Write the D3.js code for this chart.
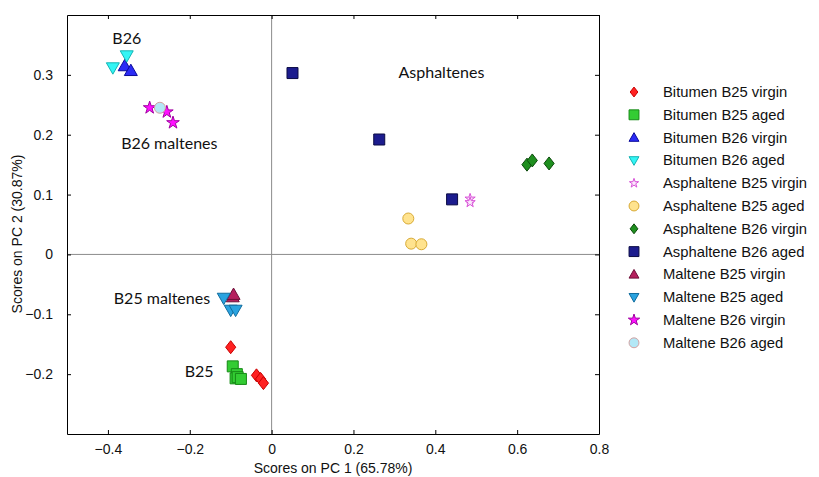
<!DOCTYPE html>
<html>
<head>
<meta charset="utf-8">
<script src="https://cdn.jsdelivr.net/npm/d3@7"></script>
<style>
	body { margin: 0; background: #fff; }
	svg text { font-family: "Liberation Sans", Arial, sans-serif; }
	.note { font-family: Lato, "Open Sans", sans-serif; font-size: 16px; fill: #111; }
</style>
</head>
<body>
<div id="chart"></div>
<script>
// series names, in legend order
const seriesNames = [
	'Bitumen B25 virgin', 'Bitumen B25 aged', 'Bitumen B26 virgin', 'Bitumen B26 aged',
	'Asphaltene B25 virgin', 'Asphaltene B25 aged', 'Asphaltene B26 virgin', 'Asphaltene B26 aged',
	'Maltene B25 virgin', 'Maltene B25 aged', 'Maltene B26 virgin', 'Maltene B26 aged'
];

// scores [PC1, PC2]
const bitB25virgin = [[-0.100, -0.155], [-0.037, -0.202], [-0.027, -0.208], [-0.020, -0.215]];
const bitB25aged = [[-0.095, -0.187], [-0.085, -0.200], [-0.088, -0.207], [-0.083, -0.205], [-0.075, -0.208]];
const bitB26virgin = [[-0.359, 0.315], [-0.344, 0.307]];
const bitB26aged = [[-0.354, 0.332], [-0.388, 0.312]];
const asphB25virgin = [[0.485, 0.093], [0.485, 0.087]];
const asphB25aged = [[0.334, 0.060], [0.341, 0.018], [0.366, 0.017]];
const asphB26virgin = [[0.624, 0.150], [0.637, 0.157], [0.678, 0.152]];
const asphB26aged = [[0.051, 0.303], [0.263, 0.192], [0.441, 0.092]];
const maltB25virgin = [[-0.095, -0.071], [-0.093, -0.067]];
const maltB25aged = [[-0.117, -0.073], [-0.100, -0.093], [-0.088, -0.093]];
const maltB26virgin = [[-0.298, 0.245], [-0.256, 0.238], [-0.241, 0.220]];
const maltB26aged = [[-0.273, 0.245]];

const xTicks = [-0.4, -0.2, 0, 0.2, 0.4, 0.6, 0.8];
const yTicks = [-0.2, -0.1, 0, 0.1, 0.2, 0.3];

// annotation text with its centre in score units
const noteText = ['B26', 'B26 maltenes', 'Asphaltenes', 'B25 maltenes', 'B25'];
const noteX = [-0.354, -0.250, 0.415, -0.268, -0.177];
const noteY = [0.351, 0.176, 0.294, -0.083, -0.205];

const allData = [bitB25virgin, bitB25aged, bitB26virgin, bitB26aged, asphB25virgin, asphB25aged,
	asphB26virgin, asphB26aged, maltB25virgin, maltB25aged, maltB26virgin, maltB26aged];

// marker look per series
const styles = [
	{ shape: 'diamond', fill: '#ff2222', stroke: '#c80000', size: 13 },
	{ shape: 'square', fill: '#33cc33', stroke: '#178a17', size: 11 },
	{ shape: 'up', fill: '#2b2bf5', stroke: '#0a0a9a', size: 13 },
	{ shape: 'down', fill: '#33f5f5', stroke: '#14b4b4', size: 13 },
	{ shape: 'star', fill: '#fbe8fb', stroke: '#d84fd8', size: 8.5 },
	{ shape: 'circle', fill: '#ffe38e', stroke: '#d8aa35', size: 11 },
	{ shape: 'diamond', fill: '#1f8f1f', stroke: '#0b4a0b', size: 13 },
	{ shape: 'square', fill: '#1c1c8e', stroke: '#0b0b45', size: 11 },
	{ shape: 'up', fill: '#b5205e', stroke: '#6e0f38', size: 13 },
	{ shape: 'down', fill: '#2aa3e0', stroke: '#126d9e', size: 13 },
	{ shape: 'star', fill: '#ff10ff', stroke: '#a000a0', size: 10.5 },
	{ shape: 'circle', fill: '#b3e8f6', stroke: '#d3a2a2', size: 11 }
];

function markerPath(shape, s) {
	const h = s / 2;
	if (shape === 'diamond') {
		const w = h * 0.78;
		return `M0,${-h}L${w},0L0,${h}L${-w},0Z`;
	}
	if (shape === 'square') return `M${-h},${-h}H${h}V${h}H${-h}Z`;
	if (shape === 'up') return `M0,${-h}L${h},${h * 0.75}L${-h},${h * 0.75}Z`;
	if (shape === 'down') return `M0,${h}L${h},${-h * 0.75}L${-h},${-h * 0.75}Z`;
	if (shape === 'circle') return d3.symbol(d3.symbolCircle, Math.PI * h * h)();
	return d3.symbol(d3.symbolStar, s * s * 0.45)();
}

const W = 819, H = 477;
const x = d3.scaleLinear().domain([-0.5, 0.8]).range([67, 599]);
const y = d3.scaleLinear().domain([-0.3, 0.4]).range([434, 15]);

const svg = d3.select('#chart').append('svg')
	.attr('width', W)
	.attr('height', H);

// zero lines
svg.append('line')
	.attr('x1', x(0)).attr('x2', x(0))
	.attr('y1', y(0.4)).attr('y2', y(-0.3))
	.attr('stroke', '#8c8c8c');
svg.append('line')
	.attr('x1', x(-0.5)).attr('x2', x(0.8))
	.attr('y1', y(0)).attr('y2', y(0))
	.attr('stroke', '#8c8c8c');

// axes, ticks pointing inward on all four sides
const tickLen = 4;
svg.append('g')
	.attr('transform', `translate(0,${y(-0.3)})`)
	.call(d3.axisBottom(x).tickValues(xTicks).tickSizeInner(-tickLen).tickSizeOuter(0).tickPadding(10).tickFormat(d3.format('')))
	.call(g => g.selectAll('text').attr('font-size', 14).attr('fill', '#111').attr('font-family', 'Liberation Sans, Arial'));
svg.append('g')
	.attr('transform', `translate(0,${y(0.4)})`)
	.call(d3.axisTop(x).tickValues(xTicks).tickSizeInner(-tickLen).tickSizeOuter(0).tickFormat(''));
svg.append('g')
	.attr('transform', `translate(${x(-0.5)},0)`)
	.call(d3.axisLeft(y).tickValues(yTicks).tickSizeInner(-tickLen).tickSizeOuter(0).tickPadding(14).tickFormat(d3.format('')))
	.call(g => g.selectAll('text').attr('font-size', 14).attr('fill', '#111').attr('font-family', 'Liberation Sans, Arial'));
svg.append('g')
	.attr('transform', `translate(${x(0.8)},0)`)
	.call(d3.axisRight(y).tickValues(yTicks).tickSizeInner(-tickLen).tickSizeOuter(0).tickFormat(''));

svg.selectAll('.domain').attr('stroke', '#000');

// axis titles
svg.append('text')
	.attr('x', (x(-0.5) + x(0.8)) / 2)
	.attr('y', 473)
	.attr('text-anchor', 'middle')
	.attr('font-size', 14)
	.attr('fill', '#111')
	.text('Scores on PC 1 (65.78%)');
svg.append('text')
	.attr('transform', 'rotate(-90)')
	.attr('x', -234)
	.attr('y', 22)
	.attr('text-anchor', 'middle')
	.attr('font-size', 14)
	.attr('fill', '#111')
	.text('Scores on PC 2 (30.87%)');

// points
allData.forEach((pts, i) => {
	const st = styles[i];
	svg.append('g').selectAll('path')
		.data(pts)
		.enter()
		.append('path')
		.attr('transform', d => `translate(${x(d[0])},${y(d[1])})`)
		.attr('d', markerPath(st.shape, st.size))
		.attr('fill', st.fill)
		.attr('stroke', st.stroke)
		.attr('stroke-width', 1);
});

// group notes
svg.selectAll('.note')
	.data(noteText)
	.enter()
	.append('text')
	.attr('class', 'note')
	.attr('x', (d, i) => x(noteX[i]))
	.attr('y', (d, i) => y(noteY[i]))
	.attr('text-anchor', 'middle')
	.text(d => d);

// legend
const legend = svg.append('g').attr('transform', 'translate(634,92)');
const rowH = 22.8;
seriesNames.forEach((name, i) => {
	const st = styles[i];
	const row = legend.append('g').attr('transform', `translate(0,${i * rowH})`);
	row.append('path')
		.attr('d', markerPath(st.shape, Math.min(st.size, 11) * 0.9))
		.attr('fill', st.fill)
		.attr('stroke', st.stroke);
	row.append('text')
		.attr('x', 29)
		.attr('y', 5)
		.attr('font-size', 14.8)
		.attr('fill', '#111')
		.text(name);
});
</script>
</body>
</html>
